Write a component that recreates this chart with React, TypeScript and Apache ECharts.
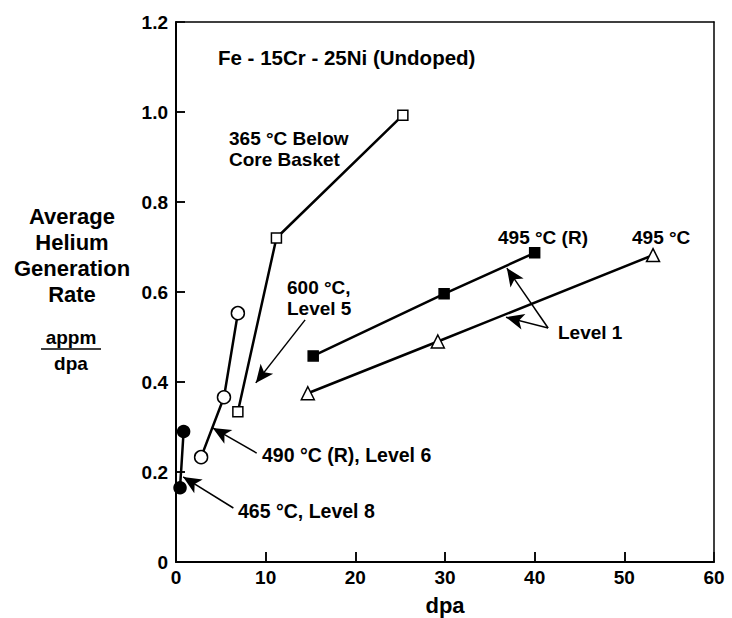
import React, { useEffect, useRef } from "react";
import * as echarts from "echarts";

// Data (x = dpa, y = appm/dpa)
const level8_465: [number, number][] = [[0.45, 0.165], [0.85, 0.29]];
const level6_490R: [number, number][] = [[2.8, 0.233], [5.35, 0.366], [6.9, 0.553]];
const level5_600_365: [number, number][] = [[6.9, 0.334], [11.2, 0.72], [25.3, 0.993]];
const level1_495R: [number, number][] = [[15.3, 0.458], [29.9, 0.596], [40.0, 0.687]];
const level1_495: [number, number][] = [[14.7, 0.375], [29.2, 0.49], [53.2, 0.682]];

const xTicks = [0, 10, 20, 30, 40, 50, 60];
const yTicks = [0, 0.2, 0.4, 0.6, 0.8, 1.0, 1.2];

// Annotation arrows: [tail, tip] in data coordinates
const arrows: [[number, number], [number, number]][] = [
  [[14.4, 0.538], [8.9, 0.398]],
  [[9.0, 0.242], [4.1, 0.298]],
  [[6.4, 0.12], [0.8, 0.189]],
  [[41.5, 0.52], [36.8, 0.544]],
  [[41.5, 0.52], [36.9, 0.653]],
];

const FONT = "'Liberation Sans', Arial, Helvetica, sans-serif";

const GRID_W = 538;
const GRID_H = 540;

export default function App() {
  const ref = useRef<HTMLDivElement>(null);
  useEffect(() => {
    if (!ref.current) return;
    const chart = echarts.init(ref.current, undefined, { renderer: "svg" });
    const xMin = xTicks[0];
    const xMax = xTicks[xTicks.length - 1];
    const yMin = yTicks[0];
    const yMax = yTicks[yTicks.length - 1];
    // inward tick lengths (10px on x, 9px on y) expressed in data units
    const xTickLen = ((yMax - yMin) * 10) / GRID_H;
    const yTickLen = ((xMax - xMin) * 9) / GRID_W;

    const markerSeries = (
      name: string,
      data: [number, number][],
      symbol: string,
      size: number,
      filled: boolean
    ) => ({
      name,
      type: "line",
      data,
      symbol,
      symbolSize: size,
      showSymbol: true,
      lineStyle: { color: "#000", width: 2.5 },
      itemStyle: { color: filled ? "#000" : "#fff", borderColor: "#000", borderWidth: 1.5 },
      z: 3,
    });
    const txt = (x: number, y: number, text: string, size = 19, align = "left") => ({
      type: "text",
      x,
      y,
      style: {
        text,
        fontFamily: FONT,
        fontWeight: "bold",
        fontSize: size,
        fill: "#000",
        align,
        verticalAlign: "middle",
      },
    });
    const frameAxis = {
      type: "value",
      axisLine: { show: true, onZero: false, lineStyle: { color: "#000", width: 1.5 } },
      axisTick: { show: false },
      axisLabel: { show: false },
      splitLine: { show: false },
    };
    const tickSegments = [
      ...xTicks
        .filter((t) => t !== xMin && t !== xMax)
        .map((t) => [{ coord: [t, yMin] }, { coord: [t, yMin + xTickLen] }]),
      ...yTicks
        .filter((t) => t !== yMin && t !== yMax)
        .map((t) => [{ coord: [xMin, t] }, { coord: [xMin + yTickLen, t] }]),
    ];
    chart.setOption({
      animation: false,
      backgroundColor: "#fff",
      grid: {
        left: 176,
        top: 22,
        width: GRID_W,
        height: GRID_H,
        containLabel: false,
        outerBoundsMode: "none",
      },
      xAxis: [
        {
          type: "value",
          min: xMin,
          max: xMax,
          interval: 10,
          name: "dpa",
          nameLocation: "middle",
          nameGap: 32,
          nameTextStyle: { fontFamily: FONT, fontWeight: "bold", fontSize: 22, color: "#000" },
          axisLine: { show: true, onZero: false, lineStyle: { color: "#000", width: 2 } },
          axisTick: { show: true, inside: true, length: 10, lineStyle: { color: "#000", width: 1.5 } },
          axisLabel: { fontFamily: FONT, fontWeight: "bold", fontSize: 19, color: "#000", margin: 6 },
          splitLine: { show: false },
        },
        { ...frameAxis, position: "top", min: xMin, max: xMax },
      ],
      yAxis: [
        {
          type: "value",
          min: yMin,
          max: yMax,
          interval: 0.2,
          axisLine: { show: true, onZero: false, lineStyle: { color: "#000", width: 2 } },
          axisTick: { show: true, inside: true, length: 9, lineStyle: { color: "#000", width: 1.5 } },
          axisLabel: {
            fontFamily: FONT,
            fontWeight: "bold",
            fontSize: 19,
            color: "#000",
            margin: 8,
            formatter: (v: number) => (v === 0 ? "0" : v.toFixed(1)),
          },
          splitLine: { show: false },
        },
        { ...frameAxis, position: "right", min: yMin, max: yMax },
      ],
      series: [
        markerSeries("465 °C, Level 8", level8_465, "circle", 12, true),
        markerSeries("490 °C (R), Level 6", level6_490R, "circle", 13, false),
        markerSeries("600 °C Level 5 / 365 °C", level5_600_365, "rect", 10, false),
        markerSeries("495 °C (R)", level1_495R, "rect", 10, true),
        markerSeries("495 °C", level1_495, "triangle", 13, false),
        {
          name: "arrows",
          type: "line",
          data: [],
          markLine: {
            silent: true,
            symbol: ["none", "arrow"],
            symbolSize: [12, 18],
            label: { show: false },
            lineStyle: { color: "#000", width: 1.5, type: "solid" },
            data: arrows.map(([a, b]) => [{ coord: a }, { coord: b }]),
          },
        },
        {
          name: "ticks",
          type: "line",
          data: [],
          markLine: {
            silent: true,
            symbol: ["none", "none"],
            label: { show: false },
            lineStyle: { color: "#000", width: 1.5, type: "solid" },
            data: tickSegments,
          },
        },
      ],
      graphic: [
        txt(218, 57, "Fe - 15Cr - 25Ni (Undoped)", 20.5),
        txt(229, 138, "365 °C Below"),
        txt(229, 159, "Core Basket"),
        txt(287, 287, "600 °C,"),
        txt(287, 308, "Level 5"),
        txt(498, 237, "495 °C (R)"),
        txt(632, 237, "495 °C"),
        txt(558, 332, "Level 1"),
        txt(262, 455, "490 °C (R), Level 6", 19.5),
        txt(238, 511, "465 °C, Level 8", 19.5),
        txt(72, 216, "Average", 22, "center"),
        txt(72, 242, "Helium", 22, "center"),
        txt(72, 268, "Generation", 22, "center"),
        txt(72, 294, "Rate", 22, "center"),
        txt(71, 337, "appm", 19, "center"),
        {
          type: "line",
          shape: { x1: 41, y1: 349, x2: 101, y2: 349 },
          style: { stroke: "#000", lineWidth: 1.5 },
        },
        txt(71, 363, "dpa", 19, "center"),
      ],
    });
    return () => chart.dispose();
  }, []);
  return (
    <div
      ref={ref}
      style={{ position: "fixed", left: 0, top: 0, width: 732, height: 618, background: "#fff" }}
    />
  );
}
